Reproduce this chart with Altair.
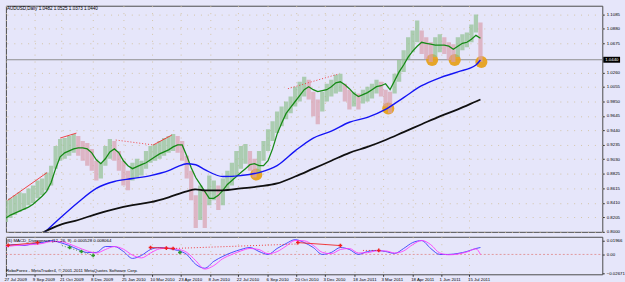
import altair as alt
import pandas as pd

# ---------------- data ----------------
title_text = "AUDUSD,Daily  1.0482 1.0525 1.0373 1.0440"
indicator_text = "(6) MACD_Divergence (12, 26, 9) -0.000528 0.008064"
footer_text = "RoboForex - MetaTrader4, \u00a9 2001-2011 MetaQuotes Software Corp."

first_week = "2009-07-27"
date_labels = ["2009-07-27", "2009-09-09", "2009-10-21", "2009-12-08", "2010-01-25",
               "2010-03-10", "2010-04-23", "2010-06-08", "2010-07-22", "2010-09-06",
               "2010-10-20", "2010-12-03", "2011-01-18", "2011-03-03", "2011-04-18",
               "2011-06-01", "2011-07-15"]

price_ticks = [1.1085, 1.0880, 1.0675, 1.0260, 1.0055, 0.9850, 0.9645, 0.9440,
               0.9235, 0.9030, 0.8825, 0.8615, 0.8410, 0.8205, 0.8000]
last_price = 1.0440

week_high = [0.8448, 0.8476, 0.8518, 0.8560, 0.8546, 0.8616, 0.8658, 0.8728, 0.8756, 0.8840,
             0.8938, 0.9218, 0.9316, 0.9330, 0.9358, 0.9386, 0.9358, 0.9288, 0.9260, 0.9176,
             0.9008, 0.8980, 0.9218, 0.9316, 0.9288, 0.9148, 0.9008, 0.8868, 0.8980, 0.9036,
             0.9008, 0.9148, 0.9218, 0.9246, 0.9288, 0.9330, 0.9358, 0.9386, 0.9358, 0.9288,
             0.9078, 0.8868, 0.8518, 0.8658, 0.8588, 0.8798, 0.8728, 0.8658, 0.8756, 0.8868,
             0.8980, 0.9148, 0.9218, 0.9246, 0.9148, 0.9036, 0.9148, 0.9288, 0.9456, 0.9568,
             0.9708, 0.9778, 0.9848, 0.9918, 1.0058, 1.0128, 1.0198, 1.0156, 0.9988, 0.9876,
             0.9988, 1.0100, 1.0156, 1.0226, 1.0240, 1.0100, 1.0016, 0.9988, 0.9960, 1.0016,
             1.0058, 1.0100, 1.0156, 1.0128, 1.0016, 0.9988, 1.0240, 1.0436, 1.0576, 1.0758,
             1.0856, 1.0996, 1.0856, 1.0758, 1.0688, 1.0758, 1.0800, 1.0758, 1.0688, 1.0660,
             1.0758, 1.0800, 1.0828, 1.0940, 1.1080, 1.0968]
week_low = [0.8140, 0.8196, 0.8238, 0.8280, 0.8308, 0.8378, 0.8406, 0.8476, 0.8518, 0.8588,
            0.8658, 0.8896, 0.9008, 0.9036, 0.9078, 0.9120, 0.9078, 0.9008, 0.8938, 0.8868,
            0.8728, 0.8756, 0.8938, 0.9036, 0.9008, 0.8868, 0.8658, 0.8588, 0.8728, 0.8770,
            0.8798, 0.8896, 0.8980, 0.9008, 0.9036, 0.9078, 0.9120, 0.9148, 0.9120, 0.9008,
            0.8756, 0.8448, 0.8056, 0.8168, 0.8056, 0.8378, 0.8448, 0.8308, 0.8378, 0.8588,
            0.8658, 0.8798, 0.8896, 0.8966, 0.8868, 0.8770, 0.8840, 0.9008, 0.9148, 0.9288,
            0.9400, 0.9498, 0.9596, 0.9680, 0.9778, 0.9848, 0.9918, 0.9876, 0.9638, 0.9526,
            0.9708, 0.9848, 0.9918, 0.9960, 0.9988, 0.9848, 0.9736, 0.9778, 0.9736, 0.9820,
            0.9848, 0.9890, 0.9960, 0.9918, 0.9778, 0.9680, 0.9960, 1.0128, 1.0268, 1.0436,
            1.0548, 1.0688, 1.0520, 1.0450, 1.0408, 1.0478, 1.0548, 1.0520, 1.0436, 1.0408,
            1.0478, 1.0576, 1.0618, 1.0688, 1.0828, 1.0408]

green_ma = [0.8196, 0.8238, 0.8266, 0.8294, 0.8322, 0.8350, 0.8392, 0.8448, 0.8504, 0.8574,
            0.8700, 0.8896, 0.9064, 0.9120, 0.9148, 0.9176, 0.9190, 0.9190, 0.9176, 0.9120,
            0.9022, 0.8966, 0.9036, 0.9134, 0.9176, 0.9120, 0.9008, 0.8938, 0.8896, 0.8924,
            0.8952, 0.8980, 0.9022, 0.9064, 0.9106, 0.9134, 0.9162, 0.9204, 0.9232, 0.9232,
            0.9078, 0.8910, 0.8770, 0.8672, 0.8574, 0.8476, 0.8476, 0.8518, 0.8588, 0.8672,
            0.8728, 0.8784, 0.8840, 0.8896, 0.8952, 0.8966, 0.8938, 0.8938, 0.9008, 0.9176,
            0.9386, 0.9540, 0.9680, 0.9764, 0.9848, 0.9932, 1.0016, 1.0058, 1.0016, 0.9988,
            1.0002, 1.0016, 1.0058, 1.0114, 1.0128, 1.0086, 1.0030, 0.9960, 0.9918, 0.9946,
            0.9974, 1.0016, 1.0058, 1.0072, 1.0100, 1.0016, 1.0142, 1.0268, 1.0366, 1.0478,
            1.0562, 1.0632, 1.0688, 1.0674, 1.0660, 1.0646, 1.0646, 1.0646, 1.0632, 1.0590,
            1.0632, 1.0674, 1.0688, 1.0730, 1.0786, 1.0744]

blue_weeks = [8, 12, 16, 20, 24, 28, 32, 36, 38, 40, 42, 44, 48, 52, 56, 60, 64, 68, 72, 76,
              80, 84, 88, 92, 96, 100, 104, 105]
blue_ma = [0.7958, 0.8196, 0.8420, 0.8616, 0.8714, 0.8756, 0.8798, 0.8868, 0.8924, 0.8966,
           0.8952, 0.8882, 0.8784, 0.8798, 0.8840, 0.8938, 0.9148, 0.9330, 0.9428, 0.9554,
           0.9624, 0.9736, 0.9904, 1.0072, 1.0184, 1.0268, 1.0366, 1.0436]

black_weeks = [8, 12, 16, 20, 24, 28, 32, 36, 40, 42, 44, 48, 52, 56, 60, 64, 68, 72, 76, 80,
               84, 88, 92, 96, 100, 104, 105]
black_ma = [0.7986, 0.8098, 0.8168, 0.8252, 0.8322, 0.8378, 0.8420, 0.8490, 0.8574, 0.8602,
            0.8588, 0.8588, 0.8616, 0.8644, 0.8686, 0.8784, 0.8896, 0.9008, 0.9120, 0.9204,
            0.9302, 0.9414, 0.9526, 0.9638, 0.9736, 0.9848, 0.9876]

circle_weeks = [55.4, 84.6, 94.3, 99.3, 105.2]
circle_prices = [0.8812, 0.9750, 1.0436, 1.0436, 1.0408]

div_start_week = [0.4, 12.0, 32.6, 24.3, 62.4]
div_end_week = [9.1, 15.6, 36.7, 32.6, 73.7]
div_start_price = [0.8448, 0.9330, 0.9232, 0.9302, 1.0030]
div_end_price = [0.8840, 0.9400, 0.9372, 0.9232, 1.0240]
div_style = ["solid", "solid", "solid", "dotted", "dotted"]

macd_weeks = list(range(0, 105, 2)) + [105]
macd_main = [0.0127, 0.0142, 0.0127, 0.0156, 0.0170, 0.0198, 0.0170, 0.0127, 0.0071, 0.0028,
             0.0028, 0.0113, 0.0113, 0.0042, -0.0057, -0.0014, 0.0071, 0.0099, 0.0085, 0.0057,
             0.0000, -0.0142, -0.0198, -0.0099, -0.0028, 0.0028, 0.0071, 0.0099, 0.0042, 0.0000,
             0.0085, 0.0156, 0.0212, 0.0170, 0.0099, 0.0000, 0.0028, 0.0099, 0.0071, 0.0000,
             0.0042, 0.0057, 0.0042, 0.0014, 0.0085, 0.0170, 0.0198, 0.0085, 0.0000, 0.0000,
             0.0014, 0.0042, 0.0085, 0.0099]
macd_signal = [0.0113, 0.0127, 0.0135, 0.0142, 0.0156, 0.0184, 0.0184, 0.0150, 0.0099, 0.0050,
               0.0020, 0.0070, 0.0113, 0.0075, -0.0010, -0.0050, 0.0020, 0.0080, 0.0090, 0.0075,
               0.0030, -0.0090, -0.0210, -0.0160, -0.0060, 0.0000, 0.0050, 0.0085, 0.0070, 0.0010,
               0.0040, 0.0120, 0.0200, 0.0195, 0.0130, 0.0030, 0.0010, 0.0070, 0.0085, 0.0020,
               0.0025, 0.0050, 0.0050, 0.0020, 0.0050, 0.0140, 0.0200, 0.0140, 0.0020, -0.0005,
               0.0005, 0.0035, 0.0080, 0.0000]

ind_seg_start_week = [0, 32, 64.6, 37, 79, 12.4]
ind_seg_end_week = [7, 37, 74, 64.6, 82.5, 19.3]
ind_seg_start_val = [0.0127, 0.0099, 0.0170, 0.0085, 0.0057, 0.0127]
ind_seg_end_val = [0.0170, 0.0085, 0.0127, 0.0150, 0.0057, -0.0014]
ind_seg_kind = ["red", "red", "red", "reddot", "reddot", "greendot"]

red_mark_weeks = [0.5, 7, 32, 35.5, 37, 64.6, 74, 82.5]
red_mark_vals = [0.0130, 0.0170, 0.0099, 0.0090, 0.0085, 0.0170, 0.0127, 0.0057]
green_mark_weeks = [14.1, 16.7, 19.3, 38.5]
green_mark_vals = [0.0099, 0.0042, -0.0014, 0.0028]

ind_ticks = [0.01966, 0.0, -0.02671]

# ---------------- helpers ----------------
start = pd.Timestamp(first_week)


def wk(w):
    return (start + pd.Timedelta(days=7 * w)).strftime("%Y-%m-%dT%H:%M:%S")


def dt(s, hours=0):
    t = pd.Timestamp(s)
    return alt.DateTime(year=t.year, month=t.month, date=t.day, hours=hours)


W = 604
H_MAIN = 229
H_IND = 38
BG = "#E6E6FA"
GRID = "#D2C3A5"
FONT = "Liberation Sans"
FS = 4.4

x_domain = [dt("2009-07-27"), dt("2012-02-05", 17)]
tick_vals = [dt(s) for s in date_labels]


def X(field="date", show=False):
    if show:
        ax = alt.Axis(values=tick_vals, format="%-d %b %Y", labelAlign="left", labelOffset=-2,
                      labelFlush=False, labelOverlap=False, tickSize=2, tickColor="#333",
                      labelFontSize=FS, labelFont=FONT, labelColor="#000", labelPadding=1,
                      grid=True, gridColor=GRID, gridDash=[1, 6], domain=False, title=None)
    else:
        ax = alt.Axis(values=tick_vals, labels=False, ticks=False, domain=False, grid=True,
                      gridColor=GRID, gridDash=[1, 6], title=None, minExtent=0, maxExtent=0)
    return alt.X(f"{field}:T", scale=alt.Scale(domain=x_domain), axis=ax)


def Y_main(field="price"):
    return alt.Y(f"{field}:Q", scale=alt.Scale(domain=[0.8, 1.1206], nice=False, zero=False),
                 axis=alt.Axis(orient="right", values=price_ticks, format=".4f", tickSize=2,
                               tickColor="#333", labelFontSize=FS, labelFont=FONT,
                               labelColor="#000", labelPadding=2, domain=False, grid=True,
                               labelOverlap=False, labelBound=False,
                               gridColor=GRID, gridDash=[1, 6], title=None))


def Y_ind(field="val"):
    return alt.Y(f"{field}:Q", scale=alt.Scale(domain=[-0.0285, 0.0253], nice=False, zero=False),
                 axis=alt.Axis(orient="right", values=ind_ticks,
                               labelExpr="datum.value == 0 ? '0.00' : format(datum.value, '.5f')",
                               tickSize=2, tickColor="#333", labelFontSize=FS, labelFont=FONT,
                               labelColor="#000", labelPadding=2, domain=False, grid=False,
                               labelOverlap=False, labelBound=False, title=None))


# ---------------- tables ----------------
bars = pd.DataFrame({"date": [wk(i) for i in range(len(week_high))],
                     "high": week_high, "low": week_low})
mid = (bars["high"] + bars["low"]) / 2
bars["dir"] = ["up" if i == 0 or mid[i] >= mid[i - 1] else "down" for i in range(len(mid))]

green_df = pd.DataFrame({"date": [wk(i) for i in range(len(green_ma))], "price": green_ma})
blue_df = pd.DataFrame({"date": [wk(w) for w in blue_weeks], "price": blue_ma})
black_df = pd.DataFrame({"date": [wk(w) for w in black_weeks], "price": black_ma})
circ_df = pd.DataFrame({"date": [wk(w) for w in circle_weeks], "price": circle_prices})
div_df = pd.DataFrame({"date": [wk(w) for w in div_start_week],
                       "date2": [wk(w) for w in div_end_week],
                       "price": div_start_price, "price2": div_end_price, "style": div_style})
last_df = pd.DataFrame({"price": [last_price], "val": [0.0],
                        "box_hi": [last_price + 0.0042], "box_lo": [last_price - 0.0042]})

macd_df = pd.DataFrame({"date": [wk(w) for w in macd_weeks], "val": macd_main, "sig": macd_signal})
iseg_df = pd.DataFrame({"date": [wk(w) for w in ind_seg_start_week],
                        "date2": [wk(w) for w in ind_seg_end_week],
                        "val": ind_seg_start_val, "val2": ind_seg_end_val, "kind": ind_seg_kind})
rmark_df = pd.DataFrame({"date": [wk(w) for w in red_mark_weeks], "val": red_mark_vals})
gmark_df = pd.DataFrame({"date": [wk(w) for w in green_mark_weeks], "val": green_mark_vals})

# ---------------- main panel ----------------
base_grid = alt.Chart(last_df).mark_rule(color="#8C8C8C", strokeWidth=1).encode(
    x=alt.value(0), x2=alt.value(W), y=Y_main("price"))

circles = alt.Chart(circ_df).mark_circle(color="#E6A11E", opacity=0.95, size=150).encode(
    x=X(), y=Y_main())

bar_layer = alt.Chart(bars).mark_rule(strokeWidth=4.3, clip=True, opacity=0.7).encode(
    x=X(), y=Y_main("low"), y2="high:Q",
    color=alt.Color("dir:N", scale=alt.Scale(domain=["up", "down"],
                                             range=["#92C092", "#D8A0AE"]), legend=None))

green_line = alt.Chart(green_df).mark_line(color="#168A16", strokeWidth=1.3, clip=True).encode(
    x=X(), y=Y_main())
blue_line = alt.Chart(blue_df).mark_line(color="#1414F5", strokeWidth=1.4, clip=True,
                                         interpolate="monotone").encode(x=X(), y=Y_main())
black_line = alt.Chart(black_df).mark_line(color="#101010", strokeWidth=1.8, clip=True,
                                           interpolate="monotone").encode(x=X(), y=Y_main())

div_solid = alt.Chart(div_df).transform_filter("datum.style == 'solid'").mark_rule(
    color="#F03030", strokeWidth=0.9).encode(x=X(), x2="date2:T", y=Y_main(), y2="price2:Q")
div_dot = alt.Chart(div_df).transform_filter("datum.style == 'dotted'").mark_rule(
    color="#F03030", strokeWidth=0.9, strokeDash=[1, 2]).encode(
    x=X(), x2="date2:T", y=Y_main(), y2="price2:Q")

price_box = alt.Chart(last_df).mark_rect(color="#000000").encode(
    x=alt.value(W + 1), x2=alt.value(W + 18),
    y=Y_main("box_hi"), y2="box_lo:Q")
price_box_text = alt.Chart(last_df).mark_text(
    color="#FFFFFF", fontSize=FS, font=FONT, align="left", baseline="middle").encode(
    x=alt.value(W + 3), y=Y_main("price"), text=alt.Text("price:Q", format=".4f"))

title_mark = alt.Chart(last_df).mark_text(
    color="#000000", fontSize=4.6, font=FONT, align="left", baseline="middle").encode(
    x=alt.value(1), y=alt.value(3), text=alt.value(title_text))

main = alt.layer(base_grid, circles, bar_layer, green_line, blue_line, black_line,
                 div_solid, div_dot, price_box, price_box_text, title_mark).properties(
    width=W, height=H_MAIN)

# ---------------- indicator panel ----------------
zero_line = alt.Chart(last_df).mark_rule(color="#E08585", strokeDash=[2, 2], strokeWidth=0.8).encode(
    x=alt.value(0), x2=alt.value(W), y=Y_ind("val"))

macd_blue = alt.Chart(macd_df).mark_line(color="#3A3AFF", strokeWidth=0.9,
                                         interpolate="monotone").encode(x=X(show=True), y=Y_ind("val"))
macd_mag = alt.Chart(macd_df).mark_line(color="#FF3CFF", strokeWidth=0.9,
                                        interpolate="monotone").encode(x=X(show=True), y=Y_ind("sig"))

iseg_red = alt.Chart(iseg_df).transform_filter("datum.kind == 'red'").mark_rule(
    color="#F02828", strokeWidth=0.9).encode(x=X(show=True), x2="date2:T", y=Y_ind(), y2="val2:Q")
iseg_reddot = alt.Chart(iseg_df).transform_filter("datum.kind == 'reddot'").mark_rule(
    color="#F02828", strokeWidth=0.9, strokeDash=[1, 2]).encode(
    x=X(show=True), x2="date2:T", y=Y_ind(), y2="val2:Q")
iseg_greendot = alt.Chart(iseg_df).transform_filter("datum.kind == 'greendot'").mark_rule(
    color="#3C8C3C", strokeWidth=0.9, strokeDash=[1, 2]).encode(
    x=X(show=True), x2="date2:T", y=Y_ind(), y2="val2:Q")

rmarks = alt.Chart(rmark_df).mark_point(shape="cross", filled=True, color="#F02020", size=14,
                                        opacity=1).encode(x=X(show=True), y=Y_ind())
gmarks = alt.Chart(gmark_df).mark_point(shape="cross", filled=True, color="#2A9A2A", size=14,
                                        opacity=1).encode(x=X(show=True), y=Y_ind())

ind_title = alt.Chart(last_df).mark_text(
    color="#000000", fontSize=FS, font=FONT, align="left", baseline="middle").encode(
    x=alt.value(1), y=alt.value(4), text=alt.value(indicator_text))
ind_footer = alt.Chart(last_df).mark_text(
    color="#000000", fontSize=FS, font=FONT, align="left", baseline="middle").encode(
    x=alt.value(0), y=alt.value(35), text=alt.value(footer_text))

indicator = alt.layer(zero_line, macd_blue, macd_mag, iseg_red, iseg_reddot, iseg_greendot,
                      rmarks, gmarks, ind_title, ind_footer).properties(width=W, height=H_IND)

chart = alt.vconcat(main, indicator, spacing=2).properties(
    background=BG, padding={"left": 3, "top": 3, "right": 0, "bottom": 0}
).configure_view(fill=BG, stroke="#4A4A4A", strokeWidth=1).configure_concat(
    spacing=2).configure_axis(labelOverlap=False, labelBound=False)

chart.save("out.html", embed_options={"renderer": "svg", "actions": False})
